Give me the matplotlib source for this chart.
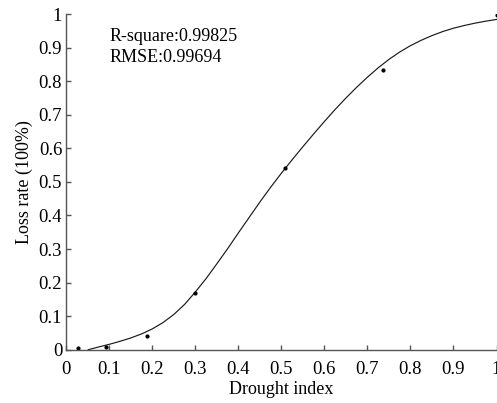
"""Loss rate vs drought index with fitted curve."""

import matplotlib

matplotlib.use("Agg")

import matplotlib.pyplot as plt
from matplotlib.ticker import FuncFormatter

# observed points
obs_x = [0.027, 0.092, 0.187, 0.298, 0.509, 0.736, 1.0]
obs_y = [0.004, 0.009, 0.041, 0.169, 0.540, 0.833, 0.997]

# fitted curve
fit_x = [0.051, 0.075, 0.100, 0.125, 0.150, 0.175, 0.200, 0.225, 0.250, 0.275,
         0.300, 0.325, 0.350, 0.375, 0.400, 0.425, 0.450, 0.475, 0.500, 0.525,
         0.550, 0.575, 0.600, 0.625, 0.650, 0.675, 0.700, 0.725, 0.750, 0.775,
         0.800, 0.825, 0.850, 0.875, 0.900, 0.925, 0.950, 0.975, 1.000]
fit_y = [0.000, 0.008, 0.016, 0.025, 0.035, 0.047, 0.062, 0.081, 0.105, 0.135,
         0.172, 0.212, 0.256, 0.301, 0.348, 0.394, 0.440, 0.484, 0.526, 0.566,
         0.605, 0.643, 0.680, 0.716, 0.750, 0.782, 0.812, 0.840, 0.865, 0.887,
         0.906, 0.922, 0.936, 0.948, 0.958, 0.966, 0.973, 0.979, 0.984]

fit_stats = ["R-square:0.99825", "RMSE:0.99694"]
x_ticks = [0, 0.1, 0.2, 0.3, 0.4, 0.5, 0.6, 0.7, 0.8, 0.9, 1.0]
y_ticks = [0, 0.1, 0.2, 0.3, 0.4, 0.5, 0.6, 0.7, 0.8, 0.9, 1.0]

plt.rcParams["font.family"] = ["Liberation Serif", "DejaVu Serif"]

fig = plt.figure(figsize=(4.97, 4.03), dpi=100)
ax = fig.add_axes([0.1334, 0.1323, 0.8656, 0.8327])

ax.plot(fit_x, fit_y, color="#1a1a1a", linewidth=0.85)
ax.plot(obs_x, obs_y, linestyle="none", marker="o", markersize=2.0, color="black")

ax.set_xlim(0, 1)
ax.set_ylim(0, 1)
ax.set_xticks(x_ticks)
ax.set_yticks(y_ticks)
fmt = FuncFormatter(lambda v, _: f"{v:g}")
ax.xaxis.set_major_formatter(fmt)
ax.yaxis.set_major_formatter(fmt)

for side in ("top", "right"):
    ax.spines[side].set_visible(False)
for side in ("left", "bottom"):
    ax.spines[side].set_color("#555555")
    ax.spines[side].set_linewidth(1.0)
ax.tick_params(direction="in", length=3.5, width=1.0, color="#555555",
               labelsize=13.5)
ax.tick_params(axis="y", pad=3)
ax.tick_params(axis="x", pad=8)

ax.set_xlabel("Drought index", fontsize=13, labelpad=2.5)
ax.set_ylabel("Loss rate (100%)", fontsize=13, labelpad=4)

ax.text(0.10, 0.933, fit_stats[0], fontsize=13, va="center", ha="left")
ax.text(0.10, 0.871, fit_stats[1], fontsize=13, va="center", ha="left")

fig.savefig("out.png", dpi=100)
